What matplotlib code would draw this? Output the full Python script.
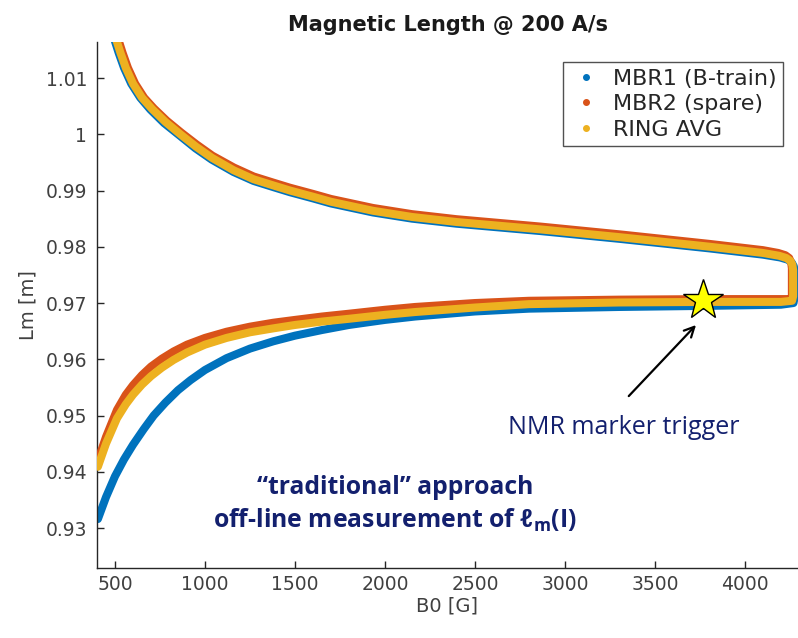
import matplotlib
matplotlib.use("Agg")
import matplotlib.pyplot as plt
from matplotlib.lines import Line2D

plt.rcParams['mathtext.fontset'] = 'custom'
plt.rcParams['mathtext.rm'] = 'Open Sans:bold'
plt.rcParams['mathtext.bf'] = 'Open Sans:bold'
plt.rcParams['mathtext.it'] = 'Open Sans:italic:bold'

# ---- measured magnetic length vs. field (up-ramp, flat-top, down-ramp) ----
b0_mbr1 = [485, 495, 520, 550, 590, 640, 696, 772, 858, 947, 1037, 1158, 1270,
           1380, 1472, 1600, 1700, 1933, 2150, 2398, 2861, 3306, 3806, 4100,
           4195, 4238, 4260, 4272, 4276, 4276, 4270,
           4200, 3800, 3300, 2800, 2500, 2167, 2000, 1800, 1650, 1500, 1380,
           1250, 1120, 1000, 920, 850, 780, 715, 660, 600, 550, 500, 450, 405]
lm_mbr1 = [1.0180, 1.0170, 1.0145, 1.0118, 1.0090, 1.0065, 1.0044, 1.0020,
           0.9998, 0.9975, 0.9955, 0.9933, 0.9917, 0.9906, 0.9897, 0.9886,
           0.9877, 0.9861, 0.9850, 0.9841, 0.9828, 0.9814, 0.9797, 0.9786,
           0.9781, 0.9777, 0.9772, 0.9765, 0.9755, 0.9710, 0.9700,
           0.9697, 0.9695, 0.9693, 0.9690, 0.9685, 0.9676, 0.9670, 0.9661,
           0.9652, 0.9642, 0.9632, 0.9619, 0.9602, 0.9581, 0.9563, 0.9545,
           0.9523, 0.9500, 0.9476, 0.9448, 0.9422, 0.9392, 0.9355, 0.9316]

b0_mbr2 = [507, 517, 542, 572, 612, 662, 716, 788, 868, 953, 1041, 1160, 1270,
           1380, 1472, 1600, 1700, 1933, 2150, 2398, 2861, 3306, 3806, 4100,
           4185, 4225, 4246, 4257, 4261, 4261, 4256,
           4200, 3800, 3300, 2800, 2500, 2167, 2000, 1800, 1650, 1500, 1380,
           1250, 1120, 1000, 900, 826, 760, 700, 650, 600, 560, 511, 450, 405]
lm_mbr2 = [1.0180, 1.0170, 1.0145, 1.0118, 1.0090, 1.0065, 1.0046, 1.0024,
           1.0003, 0.9982, 0.9962, 0.9941, 0.9925, 0.9914, 0.9905, 0.9894,
           0.9885, 0.9869, 0.9858, 0.9849, 0.9836, 0.9822, 0.9805, 0.9794,
           0.9789, 0.9785, 0.9780, 0.9772, 0.9762, 0.9714, 0.9707,
           0.9707, 0.9707, 0.9706, 0.9704, 0.9700, 0.9693, 0.9688, 0.9681,
           0.9676, 0.9670, 0.9665, 0.9658, 0.9649, 0.9638, 0.9626, 0.9614,
           0.9601, 0.9587, 0.9572, 0.9554, 0.9537, 0.9510, 0.9462, 0.9420]

b0_ring = [495, 505, 530, 560, 600, 650, 706, 780, 863, 950, 1039, 1159, 1270,
           1380, 1472, 1600, 1700, 1933, 2150, 2398, 2861, 3306, 3806, 4100,
           4190, 4230, 4252, 4264, 4268, 4268, 4262,
           4200, 3800, 3300, 2800, 2500, 2167, 2000, 1800, 1650, 1500, 1380,
           1250, 1120, 1000, 900, 826, 760, 700, 650, 600, 560, 511, 450, 405]
lm_ring = [1.0180, 1.0170, 1.0145, 1.0118, 1.0090, 1.0065, 1.0045, 1.0022,
           1.0000, 0.9978, 0.9958, 0.9936, 0.9920, 0.9909, 0.9900, 0.9889,
           0.9880, 0.9864, 0.9853, 0.9844, 0.9831, 0.9817, 0.9800, 0.9789,
           0.9784, 0.9780, 0.9775, 0.9768, 0.9758, 0.9712, 0.9704,
           0.9702, 0.9702, 0.9701, 0.9698, 0.9692, 0.9684, 0.9679, 0.9672,
           0.9667, 0.9661, 0.9655, 0.9648, 0.9638, 0.9626, 0.9612, 0.9599,
           0.9585, 0.9570, 0.9555, 0.9537, 0.9520, 0.9495, 0.9450, 0.9409]

series_labels = ['MBR1 (B-train)', 'MBR2 (spare)', 'RING AVG']
series_colors = ['#0072BD', '#D95319', '#EDB120']

x_ticks = [500, 1000, 1500, 2000, 2500, 3000, 3500, 4000]
y_ticks = [0.93, 0.94, 0.95, 0.96, 0.97, 0.98, 0.99, 1.00, 1.01]
y_tick_labels = ['0.93', '0.94', '0.95', '0.96', '0.97', '0.98', '0.99', '1', '1.01']

# NMR marker trigger point and annotation arrow
nmr_b0, nmr_lm = 3767, 0.97053
arrow_tail = (3344, 0.9531)
arrow_head = (3739, 0.96645)

axis_color = '#262626'
navy = '#13206e'

fig = plt.figure(figsize=(7.98, 6.38), dpi=100)
ax = fig.add_axes([97 / 798, 70 / 638, 701 / 798, 526 / 638])

for (bx, ly, c, z) in [(b0_mbr1, lm_mbr1, series_colors[0], 2),
                       (b0_mbr2, lm_mbr2, series_colors[1], 3),
                       (b0_ring, lm_ring, series_colors[2], 4)]:
    ax.plot(bx, ly, color=c, lw=5.8, solid_capstyle='round',
            solid_joinstyle='round', zorder=z)

ax.set_xlim(400, 4295)
ax.set_ylim(0.9229, 1.0164)
ax.set_xticks(x_ticks)
ax.set_xticklabels([str(v) for v in x_ticks])
ax.set_yticks(y_ticks)
ax.set_yticklabels(y_tick_labels)

for s in ['top', 'right']:
    ax.spines[s].set_visible(False)
for s in ['left', 'bottom']:
    ax.spines[s].set_color(axis_color)
    ax.spines[s].set_linewidth(1.0)

ax.tick_params(direction='in', length=5, width=1, colors=axis_color,
               labelsize=13.5, labelcolor='#404040')
ax.tick_params(axis='y', pad=7)
ax.tick_params(axis='x', pad=5)
for lab in ax.get_xticklabels() + ax.get_yticklabels():
    lab.set_family('DejaVu Sans')

ax.set_xlabel('B0 [G]', fontsize=14, color='#404040', family='DejaVu Sans',
              labelpad=2)
ax.set_ylabel('Lm [m]', fontsize=14, color='#404040', family='DejaVu Sans',
              labelpad=6)
ax.set_title('Magnetic Length @ 200 A/s', fontsize=15, fontweight='bold',
             family='DejaVu Sans', color='#1a1a1a', pad=8)

handles = [Line2D([0], [0], ls='none', marker='.', ms=8, color=c)
           for c in series_colors]
leg = ax.legend(handles, series_labels, loc='upper right',
                bbox_to_anchor=((783 - 97) / 701, (568 - 62) / 526),
                prop={'family': 'DejaVu Sans', 'size': 16},
                frameon=True, fancybox=False, edgecolor=axis_color,
                borderpad=0.3, labelspacing=0.25, handletextpad=0.45,
                handlelength=1.5, borderaxespad=0)
leg.get_frame().set_linewidth(1.0)
for t in leg.get_texts():
    t.set_color('#262626')

# NMR trigger star and pointer
ax.plot([nmr_b0], [nmr_lm], marker='*', ms=30, mfc='#FFFF00', mec='black',
        mew=1.0, ls='none', zorder=6)
ax.annotate('', xy=arrow_head, xytext=arrow_tail,
            arrowprops=dict(arrowstyle='->', color='black', lw=1.6,
                            mutation_scale=18), zorder=6)
ax.text((624 - 97) / 701, (568 - 427) / 526, 'NMR marker trigger',
        transform=ax.transAxes, ha='center', va='center', fontsize=18,
        color=navy, family=['Open Sans', 'DejaVu Sans'])

ax.text((395 - 97) / 701, (568 - 488) / 526, '\u201ctraditional\u201d approach',
        transform=ax.transAxes, ha='center', va='center', fontsize=17.8,
        fontweight='bold', color=navy, family=['Open Sans', 'DejaVu Sans'])
ax.text((395 - 97) / 701, (568 - 520) / 526,
        'off-line measurement of \u2113$_\\mathbf{m}$(I)',
        transform=ax.transAxes, ha='center', va='center', fontsize=17.8,
        fontweight='bold', color=navy, family=['Open Sans', 'DejaVu Sans'])

fig.savefig('out.png', dpi=100)
